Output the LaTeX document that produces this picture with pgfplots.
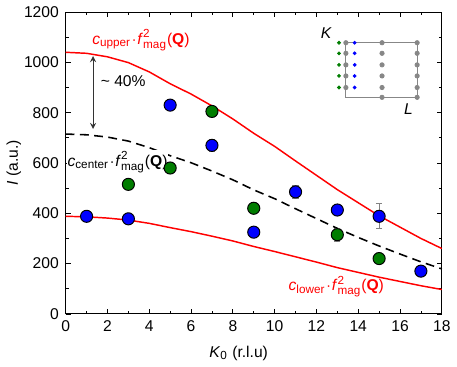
\documentclass[border=0pt]{standalone}
\usepackage{fontspec}
\setmainfont{Liberation Sans}
\usepackage{amsmath}
\usepackage{pgfplots}
\pgfplotsset{compat=1.18}

\definecolor{dgreen}{RGB}{0,125,0}
\definecolor{ebar}{RGB}{130,130,130}
\definecolor{inset}{RGB}{135,135,135}

\newcommand{\fmag}{{\textit{f}\mkern1.5mu}^{\text{2}}_{\text{mag}}\text{(\textbf{Q})}}

% measured points
\pgfplotstableread{
x y e
1 388 10
3 378 10
5 830 22
7 670 22
9 325 12
11 485 25
13 413 12
15 388 50
17 170 10
}\blueset
\pgfplotstableread{
x y e
3 515 10
5 580 10
7 805 20
9 420 10
13 315 25
15 220 10
}\greenset
% form factor curves
\pgfplotstableread{
x up ce lo
0 1040 715 388
1 1036 712 386
2 1022 703 381
3 999 687 373
4 962 661 360
5 915 629 343
6 874 601 327
7 827 568 309
8 775 533 290
9 718 493 268
10 666 458 248
11 608 418 227
12 551 379 206
13 494 340 184
14 442 304 165
15 390 270 146
16 345 238 129
17 300 207 112
18 260 179 97
}\curves

\begin{document}
\begin{tikzpicture}
\begin{axis}[
    width=192.5pt, height=154.5pt, scale only axis,
    xmin=0, xmax=18, ymin=0, ymax=1200,
    xtick={0,2,...,18}, ytick={0,200,...,1200},
    minor x tick num=1, minor y tick num=1,
    tick align=inside,
    major tick length=2.5pt, minor tick length=1.5pt,
    tick style={black, line width=0.4pt},
    axis line style={line width=0.5pt},
    font=\fontsize{8}{9.6}\selectfont,
    /pgf/number format/assume math mode=true,
    /pgf/number format/1000 sep={},
    xlabel={\textit{K}$_{\text{0}}$ (r.l.u)},
    ylabel={\textit{I} (a.u.)},
    xlabel style={at={(axis description cs:0.46,-0.13)}, anchor=center},
    ylabel style={at={(axis description cs:-0.138,0.5)}, anchor=center, rotate=0},
    clip=false,
]
    % bounding box like the reference
    \path (rel axis cs:-0.161,-0.165) rectangle (rel axis cs:1.026,1.0356);

    \addplot[red, line width=0.75pt] table[x=x, y=up] {\curves};
    \addplot[red, line width=0.75pt] table[x=x, y=lo] {\curves};
    \addplot[black, line width=0.8pt, dash pattern=on 4.5pt off 2.8pt] table[x=x, y=ce] {\curves};

    \addplot[only marks, mark=*, mark size=3.1pt,
        mark options={fill=blue, draw=black, line width=0.5pt},
        error bars/.cd, y dir=both, y explicit,
        error bar style={ebar, line width=0.4pt},
        error mark options={rotate=90, mark size=1.6pt, ebar, line width=0.4pt}]
        table[x=x, y=y, y error=e] {\blueset};
    \addplot[only marks, mark=*, mark size=3.1pt,
        mark options={fill=dgreen, draw=black, line width=0.5pt},
        error bars/.cd, y dir=both, y explicit,
        error bar style={ebar, line width=0.4pt},
        error mark options={rotate=90, mark size=1.6pt, ebar, line width=0.4pt}]
        table[x=x, y=y, y error=e] {\greenset};

    % ~40% arrow
    \draw[<->, >=stealth, line width=0.4pt, black!80] (axis cs:1.31,1025) -- (axis cs:1.31,735);
    \node[anchor=west] at (axis cs:1.35,924) {\textasciitilde\ 40\%};

    \node[red] at (axis cs:3.6,1088) {$\textit{c}_{\text{upper}}\!\cdot\!\fmag$};
    \node[black, fill=white, inner sep=0.5pt] at (axis cs:2.48,604) {$\textit{c}_{\text{center}}\!\cdot\!\fmag$};
    \node[red] at (axis cs:12.95,109) {$\textit{c}_{\text{lower}}\!\cdot\!\fmag$};

    % inset
    \addplot[inset, line width=0.5pt] coordinates {
        (13.41,1078) (16.82,1078) (16.82,861) (13.41,861) (13.41,1078)};
    \addplot[only marks, mark=*, mark size=1.1pt, inset] coordinates {
        (13.41,1078) (13.41,1036) (13.41,990) (13.41,946) (13.41,900)
        (15.14,1078) (15.14,1036) (15.14,990) (15.14,946) (15.14,900) (15.14,861)
        (16.82,1078) (16.82,1036) (16.82,990) (16.82,946) (16.82,900) (16.82,861)};
    \addplot[only marks, mark=*, mark size=0.75pt, dgreen] coordinates {
        (13.08,1078) (13.08,1036) (13.08,990) (13.08,946) (13.08,900)};
    \addplot[only marks, mark=*, mark size=0.75pt, blue] coordinates {
        (13.83,1078) (13.83,1036) (13.83,990) (13.83,946) (13.83,900)};
    \node at (axis cs:12.48,1115) {\textit{K}};
    \node at (axis cs:16.4,815) {\textit{L}};
\end{axis}
\end{tikzpicture}
\end{document}
